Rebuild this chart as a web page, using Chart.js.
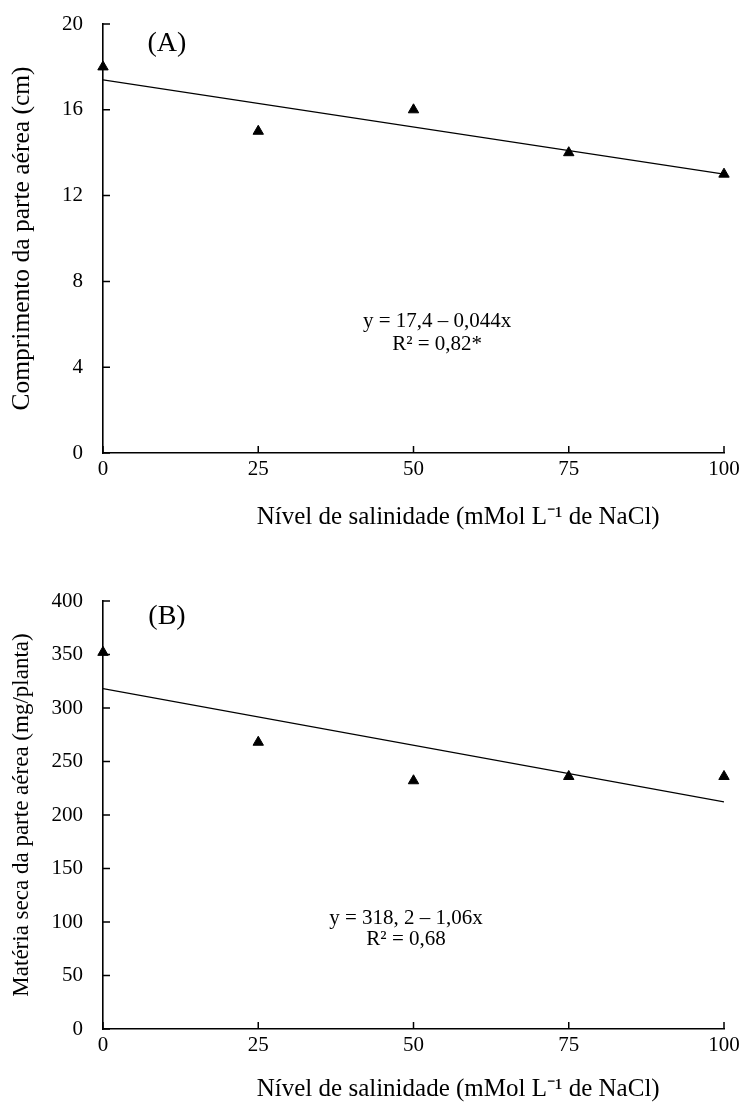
<!DOCTYPE html>
<html>
<head>
<meta charset="utf-8">
<script src="https://cdn.jsdelivr.net/npm/chart.js@4"></script>
<style>
  html, body { margin: 0; padding: 0; background: #fff; }
  .box { position: absolute; left: 0; width: 742px; }
  #boxA { top: 0; height: 545px; }
  #boxB { top: 545px; height: 559px; }
</style>
</head>
<body>
<div class="box" id="boxA"><canvas id="chartA"></canvas></div>
<div class="box" id="boxB"><canvas id="chartB"></canvas></div>
<script>
/* data */
const salinity = [0, 25, 50, 75, 100];
const comprimento = [18, 15, 16, 14, 13];
const materiaSeca = [352, 268, 232, 236, 236];
const trendX = [0, 100];
const trendComprimento = [17.4, 13.0];
const trendMateria = [318.2, 212.2];
const xTitle = "Nível de salinidade (mMol L\u207B\u00B9 de NaCl)";

const serif = "'Liberation Serif', 'Times New Roman', serif";

/* inward tick marks, x title (sits a bit right of centre) and text notes */
const extras = {
    id: "extras",
    afterDraw(chart, args, opts) {
        const ctx = chart.ctx;
        const sx = chart.scales.x, sy = chart.scales.y;
        const a = chart.chartArea;
        ctx.save();
        ctx.strokeStyle = "#000";
        ctx.lineWidth = 1.5;
        ctx.beginPath();
        sx.ticks.forEach(t => {
            const px = sx.getPixelForValue(t.value);
            ctx.moveTo(px, a.bottom);
            ctx.lineTo(px, a.bottom - 7);
        });
        sy.ticks.forEach(t => {
            const py = sy.getPixelForValue(t.value);
            ctx.moveTo(a.left, py);
            ctx.lineTo(a.left + 7, py);
        });
        ctx.stroke();
        ctx.fillStyle = "#000";
        ctx.textAlign = "center";
        ctx.textBaseline = "middle";
        ctx.font = "25px " + serif;
        ctx.fillText(xTitle, sx.getPixelForValue(57.2), a.bottom + opts.titleGap);
        opts.items.forEach(t => {
            ctx.font = t.size + "px " + serif;
            ctx.fillText(t.text, sx.getPixelForValue(t.x), sy.getPixelForValue(t.y));
        });
        ctx.restore();
    }
};

function makeChart(id, values, trend, yTitle, yTitleSize, yMax, yStep, items, padTop, xHeight, titleGap) {
    return new Chart(document.getElementById(id), {
        type: "scatter",
        data: {
            datasets: [{
                data: salinity.map((x, i) => ({x: x, y: values[i]})),
                pointStyle: "triangle",
                pointRadius: 6,
                backgroundColor: "#000",
                borderColor: "#000",
                borderWidth: 1,
                clip: false
            }, {
                type: "line",
                data: trendX.map((x, i) => ({x: x, y: trend[i]})),
                borderColor: "#000",
                borderWidth: 1.2,
                pointRadius: 0,
                fill: false
            }]
        },
        options: {
            responsive: true,
            maintainAspectRatio: false,
            animation: false,
            layout: { padding: { top: padTop, right: 18, left: 0, bottom: 0 } },
            plugins: {
                legend: { display: false },
                tooltip: { enabled: false },
                extras: { items: items, titleGap: titleGap }
            },
            scales: {
                x: {
                    type: "linear",
                    min: 0, max: 100,
                    ticks: { stepSize: 25, color: "#000", padding: 4, font: { family: serif, size: 21 } },
                    grid: { display: true, drawOnChartArea: false, drawTicks: false },
                    border: { display: true, color: "#000", width: 1.6 },
                    afterFit: s => { s.height = xHeight; s.paddingLeft = 0; s.paddingRight = 0; }
                },
                y: {
                    min: 0, max: yMax,
                    ticks: { stepSize: yStep, color: "#000", padding: 20, font: { family: serif, size: 21 } },
                    grid: { display: true, drawOnChartArea: false, drawTicks: false },
                    border: { display: true, color: "#000", width: 1.6 },
                    title: { display: true, text: yTitle, color: "#000",
                             font: { family: serif, size: yTitleSize },
                             padding: { top: 22 - yTitleSize * 0.6, bottom: 0 } },
                    afterFit: s => { s.width = 103; s.paddingTop = 0; s.paddingBottom = 0; }
                }
            }
        },
        plugins: [extras]
    });
}

makeChart("chartA", comprimento, trendComprimento, "Comprimento da parte aérea (cm)", 25.5, 20, 4, [
    { text: "(A)", x: 10.3, y: 19.1, size: 28 },
    { text: "y = 17,4 \u2013 0,044x", x: 53.8, y: 6.11, size: 21 },
    { text: "R\u00B2 = 0,82*", x: 53.8, y: 5.08, size: 21 }
], 24, 92, 64);

makeChart("chartB", materiaSeca, trendMateria, "Matéria seca da parte aérea (mg/planta)", 23, 400, 50, [
    { text: "(B)", x: 10.3, y: 385, size: 28 },
    { text: "y = 318, 2 \u2013 1,06x", x: 48.8, y: 103.7, size: 21 },
    { text: "R\u00B2 = 0,68", x: 48.8, y: 83.2, size: 21 }
], 56, 75, 60);
</script>
</body>
</html>
